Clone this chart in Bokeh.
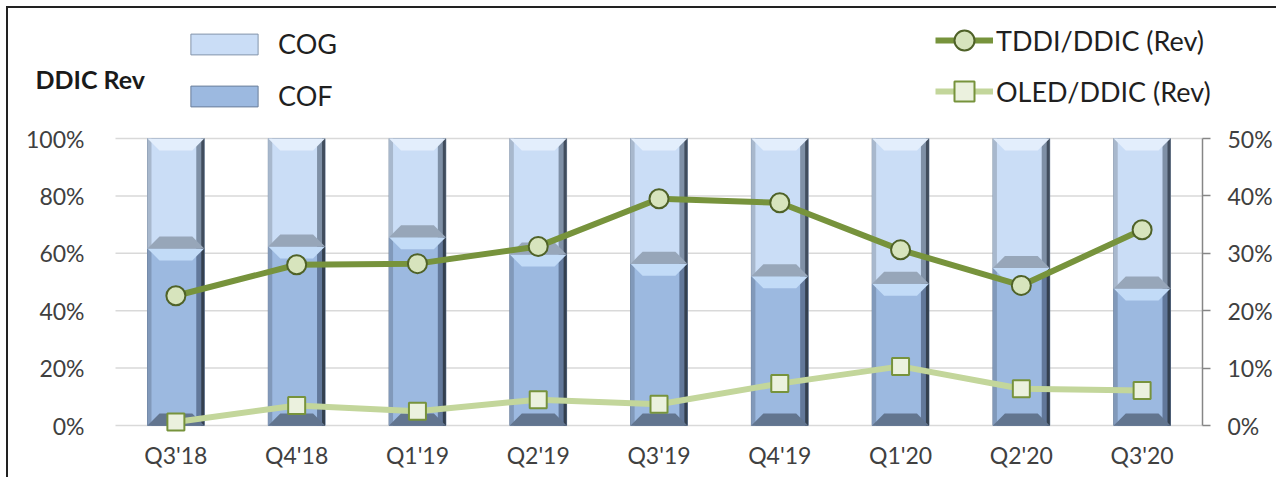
from bokeh.plotting import figure
from bokeh.models import (Range1d, LinearAxis, FixedTicker, Legend, LegendItem,
                          Label, PrintfTickFormatter)
from bokeh.embed import file_html
from bokeh.resources import INLINE

# ---------------- data ----------------
quarters = ["Q3'18", "Q4'18", "Q1'19", "Q2'19", "Q3'19", "Q4'19", "Q1'20", "Q2'20", "Q3'20"]
cof = [61.7, 62.4, 65.6, 59.6, 56.4, 52.0, 49.4, 54.9, 47.7]          # % of DDIC rev (left axis)
cog = [38.3, 37.6, 34.4, 40.4, 43.6, 48.0, 50.6, 45.1, 52.3]          # % of DDIC rev (left axis)
tddi = [22.6, 28.0, 28.2, 31.2, 39.5, 38.8, 30.6, 24.4, 34.1]         # TDDI/DDIC (right axis, %)
oled = [0.6, 3.5, 2.5, 4.5, 3.7, 7.3, 10.3, 6.4, 6.1]                 # OLED/DDIC (right axis, %)
left_ticks = [0, 20, 40, 60, 80, 100]
right_ticks = [0, 10, 20, 30, 40, 50]

# ---------------- layout ----------------
FONT = "Lato"
n = len(quarters)
xpos = list(range(n))
BW = 0.47

PLOT_W, PLOT_H = 1087, 287                 # size of the bar area in px
PAD_L, PAD_R, PAD_T, PAD_B = 107, 74, 130, 12   # space around the bar area (inside the frame)
XU = n / PLOT_W                 # data units per px (x)
YU = 100.0 / PLOT_H             # data units per px (y, left scale)

p = figure(frame_width=PAD_L + PLOT_W + PAD_R, frame_height=PAD_T + PLOT_H + PAD_B,
           x_range=Range1d(-0.5 - PAD_L * XU, n - 0.5 + PAD_R * XU),
           y_range=Range1d(-PAD_B * YU, 100 + PAD_T * YU),
           output_backend="svg", toolbar_location=None,
           min_border_left=0, min_border_right=0,
           min_border_top=0, min_border_bottom=40,
           background_fill_color="white", border_fill_color="white",
           outline_line_color=None)
p.styles = {"border-left": "2px solid #222222", "border-top": "2px solid #222222",
            "margin-left": "6px", "margin-top": "6px"}

p.extra_y_ranges = {"right": Range1d(-PAD_B * YU / 2, 50 + PAD_T * YU / 2)}

# grid lines limited to the bar area
p.xgrid.visible = False
p.ygrid.visible = False
p.segment(x0=[-0.5] * len(left_ticks), x1=[n - 0.5] * len(left_ticks),
          y0=left_ticks, y1=left_ticks, line_color="#D9D9D9", line_width=1.5)

# x axis
xa = p.xaxis[0]
xa.ticker = FixedTicker(ticks=xpos)
xa.major_label_overrides = {i: q for i, q in enumerate(quarters)}
xa.axis_line_color = None
xa.major_tick_line_color = None
xa.minor_tick_line_color = None
xa.major_label_standoff = -3
xa.major_label_text_font = FONT
xa.major_label_text_font_size = "23px"
xa.major_label_text_color = "#404040"

# left axis (drawn at the left edge of the bar area)
ya = p.yaxis[0]
ya.fixed_location = -0.5
ya.ticker = FixedTicker(ticks=left_ticks)
ya.bounds = (0, 100)
ya.formatter = PrintfTickFormatter(format="%d%%")
ya.axis_line_color = None
ya.major_tick_line_color = None
ya.minor_tick_line_color = None
ya.major_label_standoff = 25
ya.major_label_text_font = FONT
ya.major_label_text_font_size = "23px"
ya.major_label_text_color = "#404040"

# right axis (drawn at the right edge of the bar area)
ra = LinearAxis(y_range_name="right", ticker=FixedTicker(ticks=right_ticks),
                formatter=PrintfTickFormatter(format="%d%%"), bounds=(0, 50),
                fixed_location=n - 0.5)
ra.axis_line_color = "#868686"
ra.axis_line_width = 1.5
ra.major_tick_line_color = "#868686"
ra.major_tick_line_width = 1.5
ra.major_tick_out = 8
ra.major_tick_in = 0
ra.minor_tick_line_color = None
ra.major_label_standoff = 17
ra.major_label_text_font = FONT
ra.major_label_text_font_size = "23px"
ra.major_label_text_color = "#404040"
p.add_layout(ra, "right")

# ---------------- bars with bevel ----------------
cog_top = [a + b for a, b in zip(cof, cog)]

cof_r = p.vbar(x=xpos, bottom=0, top=cof, width=BW, fill_color="#9CB9E0",
               line_color="#6A7E99", line_width=1)
cog_r = p.vbar(x=xpos, bottom=cof, top=cog_top, width=BW, fill_color="#CADDF6",
               line_color="#8494AA", line_width=1)


def bevel_parts(y0s, y1s, cols):
    parts = {k: ([], []) for k in ["left", "rin", "rout", "top", "bot"]}
    dx, dy = 12 * XU, 12 * YU
    sl, ri, ro = 4 * XU, 8 * XU, 3 * XU
    for x, y0, y1 in zip(xpos, y0s, y1s):
        x0, x1 = x - BW / 2, x + BW / 2
        parts["left"][0].append([x0, x0 + sl, x0 + sl, x0])
        parts["left"][1].append([y0, y0, y1, y1])
        parts["rin"][0].append([x1 - ri, x1, x1, x1 - ri])
        parts["rin"][1].append([y0, y0, y1, y1])
        parts["rout"][0].append([x1 - ro, x1, x1, x1 - ro])
        parts["rout"][1].append([y0, y0, y1, y1])
        parts["top"][0].append([x0, x1, x1 - dx, x0 + dx])
        parts["top"][1].append([y1, y1, y1 - dy, y1 - dy])
        parts["bot"][0].append([x0, x1, x1 - dx, x0 + dx])
        parts["bot"][1].append([y0, y0, y0 + dy, y0 + dy])
    for k in ["left", "rin", "rout", "top", "bot"]:
        p.patches(parts[k][0], parts[k][1], fill_color=cols[k], line_color=None)


bevel_parts([0] * n, cof, {"left": "#8199BA", "rin": "#62789A", "rout": "#34404F",
                           "top": "#C2DBF7", "bot": "#62758F"})
bevel_parts(cof, cog_top, {"left": "#A8B8CD", "rin": "#7F90A6", "rout": "#414D5D",
                           "top": "#E3EEFC", "bot": "#97A6B9"})

# ---------------- lines ----------------
ol = p.line(xpos, oled, y_range_name="right", line_color="#C3D69B", line_width=6)
osq = p.scatter(xpos, oled, y_range_name="right", marker="square", size=17,
                fill_color="#EBF1DE", line_color="#77933C", line_width=2)
tl = p.line(xpos, tddi, y_range_name="right", line_color="#77933C", line_width=6)
tsc = p.scatter(xpos, tddi, y_range_name="right", marker="circle", size=19,
                fill_color="#D7E4BD", line_color="#4F6228", line_width=2)

# ---------------- legends (inside the frame, above the bar area) ----------------
leg1 = Legend(items=[LegendItem(label="COG", renderers=[cog_r]),
                     LegendItem(label="COF", renderers=[cof_r])],
              location=(174, 313 + PAD_B), orientation="vertical",
              glyph_width=84, glyph_height=26, label_height=28, spacing=19,
              padding=0, margin=0, border_line_color=None, background_fill_alpha=0,
              label_standoff=12, label_text_font=FONT, label_text_font_size="27px",
              label_text_color="#1F1F1F", label_text_baseline="middle")
p.add_layout(leg1)

leg2 = Legend(items=[LegendItem(label="TDDI/DDIC (Rev)", renderers=[tl, tsc]),
                     LegendItem(label="OLED/DDIC (Rev)", renderers=[ol, osq])],
              location=(927, 309 + PAD_B), orientation="vertical",
              glyph_width=58, glyph_height=50, label_height=28, spacing=1,
              padding=0, margin=0, border_line_color=None, background_fill_alpha=0,
              label_standoff=3, label_text_font=FONT, label_text_font_size="27px",
              label_text_color="#1F1F1F", label_text_baseline="middle")
p.add_layout(leg2)

p.add_layout(Label(x=-0.5 - 80 * XU, y=100 + 60 * YU, text="DDIC Rev",
                   text_font=FONT, text_font_style="bold", text_font_size="25px",
                   text_color="#1A1A1A", text_baseline="middle", text_align="left"))

open("out.html", "w").write(file_html(p, INLINE))
